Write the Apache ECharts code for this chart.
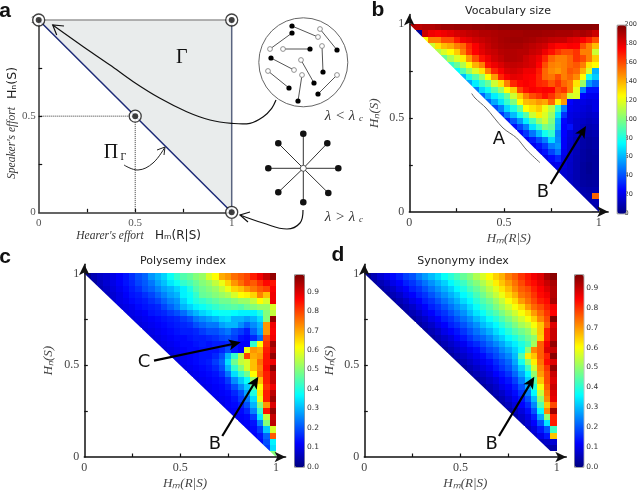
<!DOCTYPE html>
<html>
<head>
<meta charset="utf-8">
<script src="https://cdn.jsdelivr.net/npm/echarts@6/dist/echarts.min.js"></script>
<style>
  html, body { margin: 0; background: #fff; }
  #main { width: 640px; height: 491px; }
  /* the reference is a soft raster */
  #main canvas { filter: blur(0.45px); }
</style>
</head>
<body>
<div id="main"></div>
<script>
// rows run top to bottom (Hn = 1 first), each row is right aligned against Hm = 1
const vocabRows = [
  [190,188,190,190,192,194,194,195,195,195,196,196,197,197,198,198,198,198,198,198,198,198,198,198,198,198,198,198,198,197],
  [5,185,178,176,178,180,183,185,187,188,190,190,191,192,192,193,193,194,194,194,193,193,192,192,192,190,192,190,185],
  [125,150,150,160,160,170,178,180,184,186,188,190,192,193,194,194,193,192,190,189,187,186,186,182,180,176,170,160],
  [115,130,138,142,150,155,168,176,182,186,189,191,192,192,192,190,188,186,184,178,174,174,176,175,160,150,138],
  [110,118,125,135,150,165,175,180,184,186,189,190,190,189,189,186,184,178,172,165,160,160,165,150,150,115],
  [95,108,118,128,145,160,172,178,184,187,190,190,189,185,182,178,168,155,150,150,155,165,160,150,135],
  [85,95,110,125,140,150,172,178,182,186,187,186,184,182,175,160,150,148,150,155,158,150,130,125],
  [75,90,105,118,130,150,168,176,182,184,182,178,178,170,155,148,145,150,158,155,140,118,60],
  [62,80,92,105,125,145,168,176,180,179,176,175,168,155,152,160,150,155,148,125,80,65],
  [58,72,85,95,115,130,150,168,174,176,174,168,166,158,165,155,150,130,105,55,45],
  [50,68,78,92,105,125,135,162,172,176,174,176,175,160,165,150,120,50,28,28],
  [45,60,72,82,95,115,135,150,160,165,172,165,155,150,115,118,25,22,22],
  [45,58,70,85,100,125,138,140,145,142,155,128,145,25,20,20,18,20],
  [40,50,68,80,95,125,130,135,122,112,85,50,22,20,18,16,20],
  [35,48,62,78,92,115,128,118,105,70,35,20,18,16,14,16],
  [30,42,55,72,88,105,115,100,60,26,20,16,14,12,14],
  [28,38,50,70,85,100,95,58,25,28,16,12,10,12],
  [26,35,48,62,78,85,50,25,18,14,10,8,10],
  [24,30,40,50,68,52,24,17,12,8,6,8],
  [22,28,36,50,55,24,16,12,8,6,8],
  [22,28,38,48,22,16,11,7,5,7],
  [20,26,32,20,15,10,7,5,6],
  [20,22,18,14,10,6,4,6],
  [18,16,14,10,6,4,6],
  [16,13,10,6,5,6],
  [14,11,7,6,7],
  [12,9,8,9],
  [10,9,155],
  [9,10],
  [8]
];
const polyRows = [
  [.02,.05,.07,.08,.1,.12,.14,.17,.2,.22,.27,.3,.33,.38,.42,.45,.47,.5,.52,.58,.62,.7,.72,.76,.78,.8,.84,.88,.92,.97],
  [.03,.06,.08,.1,.12,.14,.16,.19,.21,.24,.28,.31,.35,.38,.42,.44,.47,.5,.52,.56,.6,.66,.72,.76,.8,.78,.82,.86,.85],
  [.05,.07,.09,.11,.13,.15,.17,.2,.22,.25,.28,.3,.33,.36,.4,.45,.48,.5,.52,.56,.6,.66,.68,.72,.75,.78,.8,.87],
  [.06,.08,.1,.12,.14,.15,.17,.19,.22,.25,.28,.3,.36,.38,.42,.47,.48,.5,.52,.54,.58,.62,.63,.66,.74,.68,.88],
  [.08,.1,.11,.13,.14,.15,.17,.19,.22,.25,.27,.33,.37,.4,.42,.44,.46,.48,.48,.5,.52,.52,.56,.62,.58,.88],
  [.09,.1,.11,.13,.14,.15,.16,.19,.22,.25,.3,.33,.36,.38,.4,.42,.44,.45,.46,.45,.48,.5,.52,.52,.58],
  [.09,.1,.11,.12,.14,.15,.16,.18,.2,.23,.27,.3,.33,.35,.37,.38,.38,.37,.36,.36,.36,.4,.5,.56],
  [.09,.1,.11,.12,.13,.14,.15,.16,.18,.2,.24,.26,.28,.3,.33,.34,.3,.3,.28,.3,.34,.5,.97],
  [.09,.1,.11,.12,.13,.14,.15,.16,.17,.2,.22,.24,.24,.28,.3,.3,.26,.22,.26,.3,.72,.88],
  [.09,.1,.11,.12,.13,.14,.15,.15,.16,.18,.2,.2,.22,.24,.2,.18,.15,.22,.28,.72,.87],
  [.09,.1,.11,.12,.13,.13,.14,.15,.15,.16,.17,.19,.2,.18,.14,.13,.16,.22,.8,.88],
  [.09,.1,.11,.12,.13,.13,.14,.15,.14,.15,.15,.16,.14,.12,.12,.42,.62,.82,.96],
  [.09,.1,.11,.12,.13,.13,.14,.14,.14,.16,.2,.14,.12,.6,.72,.7,.84,.92],
  [.09,.1,.11,.12,.13,.14,.14,.16,.2,.3,.42,.55,.8,.7,.72,.85,.97],
  [.09,.11,.12,.13,.14,.15,.18,.22,.34,.48,.56,.58,.68,.76,.85,.88],
  [.1,.11,.12,.13,.14,.16,.2,.3,.42,.5,.58,.68,.74,.86,.98],
  [.1,.11,.12,.13,.14,.17,.24,.34,.42,.48,.62,.76,.84,.92],
  [.1,.11,.12,.13,.14,.18,.26,.32,.38,.52,.68,.84,.92],
  [.1,.11,.12,.13,.15,.2,.26,.32,.46,.62,.82,.88],
  [.1,.11,.12,.13,.16,.2,.28,.4,.64,.84,.93],
  [.1,.11,.12,.14,.18,.24,.34,.6,.84,.96],
  [.1,.12,.13,.15,.2,.3,.5,.72,.9],
  [.11,.12,.13,.16,.25,.42,.85,.97],
  [.11,.12,.13,.18,.35,.56,.92],
  [.11,.12,.14,.25,.5,.93],
  [.11,.13,.18,.32,.58],
  [.12,.14,.22,.78],
  [.13,.2,.36],
  [.18,.34],
  [.5]
];
const synRows = [
  [.02,.05,.08,.1,.13,.15,.18,.2,.24,.27,.3,.33,.37,.4,.43,.46,.49,.53,.57,.61,.65,.68,.73,.76,.8,.83,.86,.88,.93,.96],
  [.03,.05,.07,.1,.12,.15,.17,.2,.23,.26,.29,.32,.36,.39,.42,.46,.49,.53,.57,.62,.66,.7,.74,.78,.82,.84,.87,.9,.93],
  [.03,.05,.07,.1,.12,.15,.17,.2,.23,.26,.29,.32,.36,.39,.43,.46,.5,.54,.58,.63,.67,.72,.76,.78,.82,.85,.88,.92],
  [.03,.05,.07,.1,.12,.15,.17,.2,.23,.26,.29,.32,.36,.39,.43,.47,.51,.55,.59,.64,.68,.74,.76,.8,.84,.86,.92],
  [.03,.05,.07,.1,.12,.15,.17,.2,.23,.26,.29,.33,.36,.4,.44,.47,.51,.55,.6,.64,.7,.74,.78,.82,.84,.93],
  [.03,.05,.07,.1,.12,.15,.17,.2,.23,.26,.29,.33,.37,.41,.44,.48,.52,.56,.6,.64,.7,.75,.78,.82,.86],
  [.03,.05,.07,.1,.12,.15,.17,.2,.23,.26,.3,.34,.37,.41,.44,.48,.52,.56,.6,.64,.7,.75,.8,.85],
  [.03,.05,.07,.1,.12,.15,.17,.2,.23,.26,.3,.33,.37,.4,.44,.48,.52,.56,.6,.65,.72,.78,.97],
  [.03,.05,.07,.1,.12,.15,.17,.2,.23,.26,.3,.33,.36,.4,.44,.48,.52,.55,.6,.66,.76,.88],
  [.03,.05,.07,.1,.12,.14,.17,.2,.23,.26,.29,.33,.36,.4,.44,.47,.5,.56,.66,.82,.9],
  [.03,.05,.07,.09,.12,.14,.17,.2,.22,.25,.29,.32,.36,.39,.43,.47,.5,.65,.82,.9],
  [.03,.05,.07,.09,.11,.14,.16,.19,.22,.25,.28,.32,.35,.39,.43,.52,.76,.86,.95],
  [.03,.05,.07,.09,.11,.13,.16,.19,.21,.25,.28,.32,.37,.5,.72,.76,.88,.9],
  [.03,.05,.07,.09,.11,.13,.16,.19,.22,.25,.3,.44,.62,.66,.76,.82,.96],
  [.03,.05,.07,.09,.11,.13,.16,.19,.22,.28,.38,.5,.62,.74,.84,.88],
  [.03,.05,.07,.09,.11,.14,.17,.2,.25,.32,.42,.56,.72,.8,.95],
  [.03,.05,.07,.09,.12,.14,.17,.22,.28,.36,.5,.7,.78,.9],
  [.03,.05,.07,.09,.12,.14,.18,.24,.32,.45,.66,.78,.88],
  [.03,.05,.07,.1,.12,.15,.2,.28,.4,.6,.76,.9],
  [.03,.05,.07,.1,.13,.17,.24,.36,.55,.74,.88],
  [.03,.05,.08,.11,.14,.2,.3,.5,.72,.87],
  [.04,.06,.09,.12,.16,.25,.44,.66,.78],
  [.04,.06,.09,.13,.2,.36,.72,.94],
  [.04,.07,.1,.15,.28,.5,.82],
  [.05,.08,.12,.2,.34,.82],
  [.06,.09,.14,.2,.42],
  [.07,.1,.14,.66],
  [.06,.07,.08],
  [.04,.04],
  []
];

const rowCount = 30;
const jet = ['#00007f', '#0000ff', '#007fff', '#00ffff', '#7fff7f', '#ffff00', '#ff7f00', '#ff0000', '#7f0000'];
const unitTicks = [0, 0.5, 1];
const quarterTicks = [0.25, 0.5, 0.75];
const vocabBarTicks = [0, 20, 40, 60, 80, 100, 120, 140, 160, 180, 200];
const indexBarTicks = [0, 0.1, 0.2, 0.3, 0.4, 0.5, 0.6, 0.7, 0.8, 0.9];
const vocabMax = 200, polyMax = 0.99, synMax = 0.97;

// schematic of panel a
const regionCorners = [[0, 1], [1, 1], [1, 0]];
const blankCorners = [[0, 0], [0, 1], [1, 0]];
const extremePoints = [[0, 1], [1, 1], [0.5, 0.5], [1, 0]];
const topEdge = [[0, 1], [1, 1]];
const rightEdge = [[1, 1], [1, 0]];
const diagonalEdge = [[0, 1], [1, 0]];
const dottedGuideX = [[0, 0.5], [0.5, 0.5]];
const dottedGuideY = [[0.5, 0.5], [0.5, 0]];

const sparsePairs = [
  [[292, 26, 1], [318, 37, 0]], [[292, 33, 1], [270, 49, 0]], [[320, 29, 0], [337, 50, 1]],
  [[283, 49, 0], [310, 49, 1]], [[322, 46, 0], [323, 72, 1]], [[271, 58, 1], [294, 70, 0]],
  [[301, 60, 0], [314, 83, 1]], [[268, 71, 0], [289, 88, 1]], [[302, 75, 0], [298, 101, 1]],
  [[337, 75, 0], [318, 94, 1]]
];
const starCenter = [303.3, 168.3];
const starLeaves = [[303.3, 133.7], [327.3, 143.3], [338.3, 168.3], [328.3, 193], [303.3, 202.3], [278.3, 192.3], [268.3, 168.3], [278.3, 143.3]];

const serif = '"Liberation Serif"';
const sans = '"DejaVu Sans"';

function cells(rows) {
  const out = [];
  rows.forEach(function (row, r) {
    row.forEach(function (v, i) {
      const col = rowCount - row.length + i;
      out.push([col / rowCount, 1 - r / rowCount, v]);
    });
  });
  return out;
}

function heatSeries(idx, rows) {
  return {
    type: 'custom',
    xAxisIndex: idx,
    yAxisIndex: idx,
    z: 2,
    silent: true,
    animation: false,
    clip: false,
    encode: { x: 0, y: 1 },
    data: cells(rows),
    renderItem: function (params, api) {
      const a = api.coord([api.value(0), api.value(1)]);
      const b = api.coord([api.value(0) + 1 / rowCount, api.value(1) - 1 / rowCount]);
      // whole pixels, otherwise seams show between the cells
      const x0 = Math.round(a[0]), y0 = Math.round(a[1]);
      return {
        type: 'rect',
        shape: { x: x0, y: y0, width: Math.round(b[0]) - x0, height: Math.round(b[1]) - y0 },
        style: { fill: api.visual('color') }
      };
    }
  };
}

function polygonSeries(idx, corners, fill) {
  return {
    type: 'custom',
    xAxisIndex: idx,
    yAxisIndex: idx,
    z: 3,
    silent: true,
    animation: false,
    clip: false,
    data: [0],
    renderItem: function (params, api) {
      return {
        type: 'polygon',
        shape: { points: corners.map(function (c) { return api.coord(c); }) },
        style: { fill: fill }
      };
    }
  };
}

function edgeSeries(points, color, width, dash) {
  return {
    type: 'line', xAxisIndex: 0, yAxisIndex: 0, data: points, symbol: 'none', z: 5,
    silent: true, animation: false, clip: false,
    lineStyle: { color: color, width: width, type: dash || 'solid' }
  };
}

function unitAxis(idx, extra) {
  return Object.assign({
    type: 'value', gridIndex: idx, min: 0, max: 1.05, z: 10,
    splitLine: { show: false },
    axisLine: { show: true, onZero: false, symbol: ['none', 'arrow'], symbolSize: [8, 11], lineStyle: { color: '#111', width: 1.5 } },
    axisTick: { show: true, inside: true, length: 3.5, customValues: quarterTicks, lineStyle: { color: '#111', width: 1.2 } },
    axisLabel: { customValues: unitTicks, color: '#444', fontFamily: serif, fontSize: 12, margin: 5, formatter: function (v) { return String(v); } },
    nameLocation: 'middle',
    nameTextStyle: { color: '#444', fontFamily: serif, fontStyle: 'italic', fontSize: 13 }
  }, extra);
}

function barAxes(idx, max, ticks, digits, size) {
  return {
    x: { type: 'value', gridIndex: idx, min: 0, max: 1, show: false },
    y: {
      type: 'value', gridIndex: idx, min: 0, max: max, position: 'right',
      splitLine: { show: false }, axisLine: { show: false }, axisTick: { show: false },
      axisLabel: {
        customValues: ticks, color: '#333', fontFamily: sans, fontSize: size, margin: 3,
        formatter: function (v) { return v.toFixed(digits); }
      }
    }
  };
}

const grids = [
  { left: 38.7, top: 20, width: 193, height: 192.3 },
  { left: 409.3, top: 14.6, width: 198.9, height: 197.1 },
  { left: 84.3, top: 264.2, width: 201.3, height: 200.5 },
  { left: 364.3, top: 264.2, width: 202, height: 200.5 },
  { left: 616.7, top: 24.7, width: 9, height: 188.6 },
  { left: 294, top: 274.3, width: 10, height: 192.4 },
  { left: 574, top: 274.3, width: 9.3, height: 192.4 }
];

const bars = [barAxes(4, vocabMax, vocabBarTicks, 0, 6.5), barAxes(5, polyMax, indexBarTicks, 1, 7.5), barAxes(6, synMax, indexBarTicks, 1, 7.5)];

const xAxes = [
  unitAxis(0, { max: 1, axisLine: { show: true, onZero: false, lineStyle: { color: '#333', width: 1.5 } }, axisLabel: { customValues: unitTicks, color: '#555', fontFamily: serif, fontSize: 11, margin: 5, formatter: function (v) { return String(v); } } }),
  unitAxis(1, { name: 'Hₘ(R|S)', nameGap: 20 }),
  unitAxis(2, { name: 'Hₘ(R|S)', nameGap: 20 }),
  unitAxis(3, { name: 'Hₘ(R|S)', nameGap: 20 })
].concat(bars.map(function (b) { return b.x; }));

const yAxes = [
  unitAxis(0, { max: 1, axisLine: { show: true, onZero: false, lineStyle: { color: '#333', width: 1.5 } }, axisLabel: { customValues: unitTicks, color: '#555', fontFamily: serif, fontSize: 11, margin: 3, formatter: function (v) { return String(v); } } }),
  unitAxis(1, { name: 'Hₙ(S)', nameGap: 28, nameRotate: 90 }),
  unitAxis(2, { name: 'Hₙ(S)', nameGap: 29, nameRotate: 90 }),
  unitAxis(3, { name: 'Hₙ(S)', nameGap: 28, nameRotate: 90 })
].concat(bars.map(function (b) { return b.y; }));

function colorBar(seriesIndex, max, left, top, width, height) {
  return {
    type: 'continuous', seriesIndex: seriesIndex, dimension: 2, min: 0, max: max,
    left: left, top: top, itemWidth: width, itemHeight: height, padding: 0,
    calculable: false, hoverLink: false, showLabel: false, text: null,
    borderColor: '#888', borderWidth: 1,
    inRange: { color: jet }
  };
}

// annotation helpers, pixel positions
function stroke(points, color, width, smooth) {
  return { type: 'polyline', z: 50, silent: true, shape: { points: points, smooth: smooth || 0 }, style: { stroke: color, lineWidth: width, fill: null } };
}
function label(x, y, text, font, fill, rotation) {
  return { type: 'text', z: 50, silent: true, x: x, y: y, rotation: rotation || 0, style: { text: text, font: font, fill: fill || '#111', textAlign: 'center', textVerticalAlign: 'middle' } };
}
function dot(x, y, r, fill, line, width) {
  return { type: 'circle', z: 51, silent: true, shape: { cx: x, cy: y, r: r }, style: { fill: fill, stroke: line || null, lineWidth: width || 0 } };
}
function arrow(x1, y1, x2, y2) {
  const a = Math.atan2(y2 - y1, x2 - x1);
  const pt = function (along, side) {
    return [x2 + along * Math.cos(a) - side * Math.sin(a), y2 + along * Math.sin(a) + side * Math.cos(a)];
  };
  return [
    stroke([[x1, y1], pt(-8, 0)], '#000', 2.2),
    { type: 'polygon', z: 50, silent: true, shape: { points: [[x2, y2], pt(-12, 5.5), pt(-9, 0), pt(-12, -5.5)] }, style: { fill: '#000' } }
  ];
}

const letterFont = 'bold 21px "Liberation Sans"';
const bigFont = '18px "DejaVu Sans"';
let graphics = [
  label(5, 11, 'a', letterFont), label(378, 10, 'b', letterFont),
  label(5, 257, 'c', letterFont), label(338, 255, 'd', letterFont),

  label(181.7, 57.3, 'Γ', '20px ' + serif), label(111, 152.7, 'Π', '20px ' + serif), label(123.5, 157, 'Γ', '10px ' + serif),
  label(110, 236, "Hearer's effort", 'italic 11.5px ' + serif, '#333'),
  label(178, 236, 'Hₘ(R|S)', '12px ' + sans, '#222'),
  label(12, 143, "Speaker's effort", 'italic 11.5px ' + serif, '#333', Math.PI / 2),
  label(13, 83, 'Hₙ(S)', '12.5px ' + sans, '#222', Math.PI / 2),
  label(340, 116, 'λ < λ', 'italic 15px ' + serif, '#333'), label(361, 119, 'c', 'italic 9px ' + serif, '#333'),
  label(340, 217, 'λ > λ', 'italic 15px ' + serif, '#333'), label(361, 220, 'c', 'italic 9px ' + serif, '#333'),

  stroke([[52.7, 25], [83.3, 46.7], [110, 65], [133.3, 81.7], [160, 98.3], [186.7, 111.7], [210, 120], [231.7, 123.3], [250, 123.3], [263.3, 116.7], [271.7, 108.3], [276, 100]], '#111', 1.2, 0.35),
  stroke([[64, 26], [52.7, 25], [56.7, 35]], '#111', 1.2),
  stroke([[124, 165], [138, 170], [153, 163], [165, 147]], '#222', 1, 0.4),
  stroke([[157, 150], [165, 147], [164, 155]], '#222', 1),
  stroke([[303, 210], [300, 223], [287, 229], [263, 223], [240, 215]], '#111', 1.2, 0.4),
  stroke([[250, 212], [240, 215], [248, 222]], '#111', 1.2),

  { type: 'circle', z: 50, silent: true, shape: { cx: 303.3, cy: 62.3, r: 44.5 }, style: { fill: '#fff', stroke: '#666', lineWidth: 1 } },

  stroke([[471.7, 93.5], [475, 98], [486, 108], [503, 128], [516.7, 138], [526.7, 150], [540, 162.7]], '#666', 1, 0.3),
  label(499, 139, 'A', bigFont), label(543, 192, 'B', bigFont),
  label(144, 362, 'C', bigFont), label(215, 444, 'B', bigFont), label(491.7, 444, 'B', bigFont)
];

sparsePairs.forEach(function (p) {
  graphics.push(stroke([[p[0][0], p[0][1]], [p[1][0], p[1][1]]], '#555', 1));
  p.forEach(function (n) { graphics.push(n[2] ? dot(n[0], n[1], 2.6, '#000') : dot(n[0], n[1], 2.4, '#fff', '#777', 0.8)); });
});
starLeaves.forEach(function (n) {
  graphics.push(stroke([starCenter, n], '#333', 1));
  graphics.push(dot(n[0], n[1], 3.3, '#111'));
});
graphics.push(dot(starCenter[0], starCenter[1], 3, '#fff', '#333', 0.8));
graphics = graphics
  .concat(arrow(550.7, 184, 586, 126))
  .concat(arrow(154, 360.7, 240.7, 342.3))
  .concat(arrow(222.3, 436, 258.3, 376.7))
  .concat(arrow(499, 436, 534.3, 376.7));

const titleStyle = { color: '#222', fontFamily: sans, fontWeight: 'normal', fontSize: 11 };
const chart = echarts.init(document.getElementById('main'), null, { renderer: 'canvas' });
chart.setOption({
  animation: false,
  backgroundColor: '#fff',
  title: [
    { text: 'Vocabulary size', left: 508, top: 6, textAlign: 'center', padding: 0, textStyle: titleStyle },
    { text: 'Polysemy index', left: 183, top: 256, textAlign: 'center', padding: 0, textStyle: titleStyle },
    { text: 'Synonymy index', left: 463, top: 256, textAlign: 'center', padding: 0, textStyle: titleStyle }
  ],
  grid: grids,
  xAxis: xAxes,
  yAxis: yAxes,
  visualMap: [
    colorBar(0, vocabMax, 616.7, 24.7, 9, 188.6),
    colorBar(1, polyMax, 294, 274.3, 10, 192.4),
    colorBar(2, synMax, 574, 274.3, 9.3, 192.4)
  ],
  series: [
    heatSeries(1, vocabRows),
    heatSeries(2, polyRows),
    heatSeries(3, synRows),
    polygonSeries(1, blankCorners, '#fff'),
    polygonSeries(2, blankCorners, '#fff'),
    polygonSeries(3, blankCorners, '#fff'),
    polygonSeries(0, regionCorners, '#e9ecec'),
    edgeSeries(topEdge, '#999', 1.5),
    edgeSeries(rightEdge, '#5a6480', 1.5),
    edgeSeries(diagonalEdge, '#1c2a78', 1.5),
    edgeSeries(dottedGuideX, '#333', 1, 'dotted'),
    edgeSeries(dottedGuideY, '#333', 1, 'dotted'),
    {
      type: 'scatter', xAxisIndex: 0, yAxisIndex: 0, data: extremePoints, z: 12, silent: true, clip: false,
      symbolSize: 12, itemStyle: { color: '#fff', borderColor: '#111', borderWidth: 1.3 }
    },
    {
      type: 'scatter', xAxisIndex: 0, yAxisIndex: 0, data: extremePoints, z: 13, silent: true, clip: false,
      symbolSize: 6, itemStyle: { color: '#111' }
    }
  ],
  graphic: { elements: graphics }
});
</script>
</body>
</html>
